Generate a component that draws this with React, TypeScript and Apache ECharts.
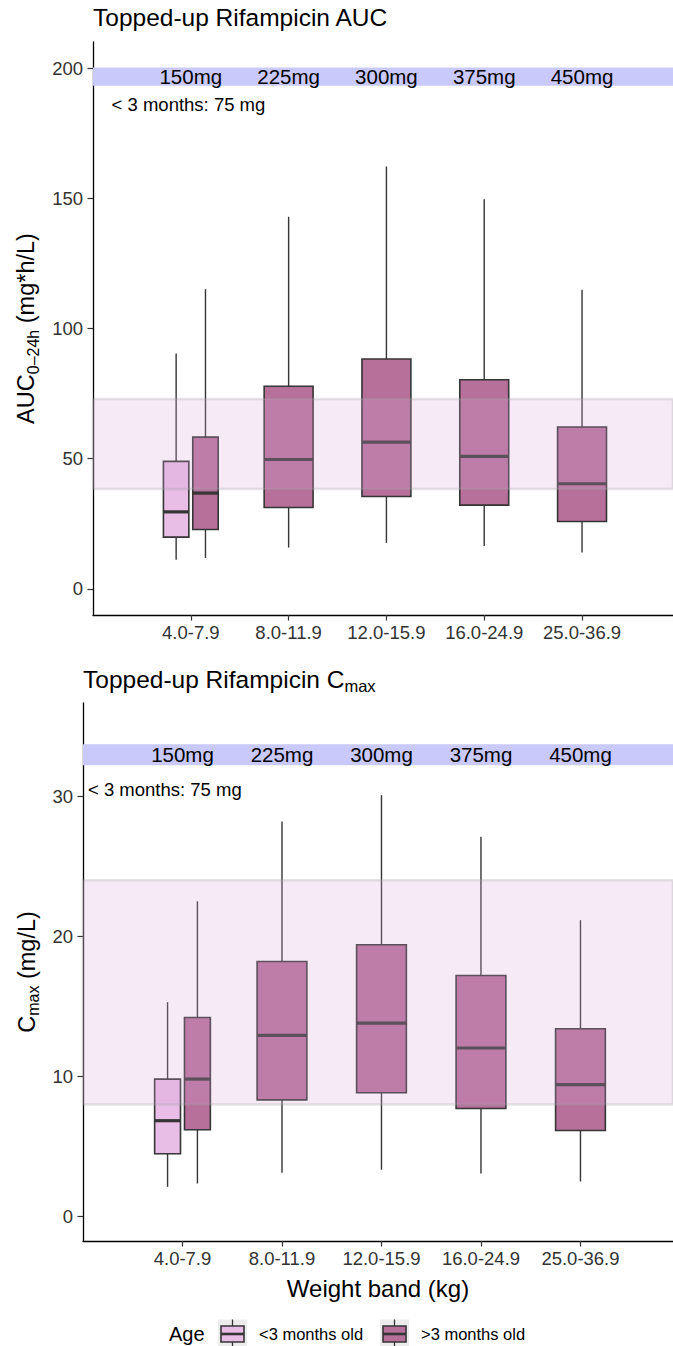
import React, { useEffect, useRef } from "react";
import * as echarts from "echarts";

const categories = ["4.0-7.9", "8.0-11.9", "12.0-15.9", "16.0-24.9", "25.0-36.9"];
const doses = ["150mg", "225mg", "300mg", "375mg", "450mg"];

// [low whisker, Q1, median, Q3, high whisker]
const aucUnder3 = [[11.2, 19.9, 29.6, 49.0, 90.4]];
const aucOver3 = [
  [11.9, 22.8, 36.8, 58.3, 115.1],
  [15.9, 31.3, 49.7, 77.8, 142.9],
  [17.7, 35.5, 56.4, 88.3, 162.2],
  [16.5, 32.2, 50.9, 80.3, 149.6],
  [14.0, 25.9, 40.4, 62.2, 114.9],
];
const cmaxUnder3 = [[2.12, 4.48, 6.84, 9.81, 15.3]];
const cmaxOver3 = [
  [2.36, 6.19, 9.81, 14.2, 22.5],
  [3.12, 8.33, 12.93, 18.2, 28.2],
  [3.34, 8.84, 13.8, 19.4, 30.07],
  [3.07, 7.71, 12.03, 17.2, 27.1],
  [2.5, 6.14, 9.41, 13.4, 21.15],
];
const aucTarget = [38.4, 72.9];
const cmaxTarget = [8.0, 24.0];
const aucDoseBand = [193.2, 200.2];
const cmaxDoseBand = [32.2, 33.7];
const aucTicks = [0, 50, 100, 150, 200];
const cmaxTicks = [0, 10, 20, 30];
const noteText = "< 3 months: 75 mg";
const ageLabels = ["<3 months old", ">3 months old"];

const LIGHT = "#e8bde6";
const DARK = "#b6709a";
const EDGE = "#353535";
const FONT = "'Liberation Sans', Arial, Helvetica, sans-serif";
const X_MAX = 5.93;
const DODGE = 0.15;
const W_SINGLE = 0.5;
const W_DODGE = 0.26;

function boxRender(width: number, fill: string) {
  return (params: any, api: any) => {
    const x = api.value(0);
    const pLo = api.coord([x, api.value(1)]);
    const pQ1 = api.coord([x, api.value(2)]);
    const pMd = api.coord([x, api.value(3)]);
    const pQ3 = api.coord([x, api.value(4)]);
    const pHi = api.coord([x, api.value(5)]);
    const half = api.size([width, 0])[0] / 2;
    return {
      type: "group",
      children: [
        { type: "line", shape: { x1: pHi[0], y1: pHi[1], x2: pQ3[0], y2: pQ3[1] }, style: { stroke: EDGE, lineWidth: 1.4 } },
        { type: "line", shape: { x1: pQ1[0], y1: pQ1[1], x2: pLo[0], y2: pLo[1] }, style: { stroke: EDGE, lineWidth: 1.4 } },
        {
          type: "rect",
          shape: { x: pQ3[0] - half, y: pQ3[1], width: 2 * half, height: pQ1[1] - pQ3[1] },
          style: { fill, stroke: EDGE, lineWidth: 1.6 },
        },
        { type: "line", shape: { x1: pMd[0] - half, y1: pMd[1], x2: pMd[0] + half, y2: pMd[1] }, style: { stroke: EDGE, lineWidth: 3.2 } },
      ],
    };
  };
}

function bandRender(fill: string, stroke: string, lw: number) {
  return (params: any, api: any) => {
    const cs = params.coordSys;
    const y0 = api.coord([0, api.value(1)])[1];
    const y1 = api.coord([0, api.value(2)])[1];
    return {
      type: "rect",
      shape: { x: cs.x, y: y1, width: cs.width, height: y0 - y1 },
      style: { fill, stroke, lineWidth: lw },
    };
  };
}

function doseRender() {
  return (params: any, api: any) => {
    const p = api.coord([api.value(0), api.value(1)]);
    return {
      type: "text",
      x: p[0],
      y: p[1],
      style: { text: doses[params.dataIndex], fontSize: 20.5, fontFamily: FONT, fill: "#000", align: "center", verticalAlign: "middle" },
    };
  };
}

function noteRender() {
  return (params: any, api: any) => {
    const p = api.coord([api.value(0), api.value(1)]);
    return {
      type: "text",
      x: p[0],
      y: p[1],
      style: { text: noteText, fontSize: 18.5, fontFamily: FONT, fill: "#000", align: "left", verticalAlign: "middle" },
    };
  };
}

function panelSeries(idx: number, under: number[][], over: number[][], target: number[], band: number[], noteX: number, noteY: number) {
  const mid = (band[0] + band[1]) / 2;
  const common = { type: "custom", xAxisIndex: idx, yAxisIndex: idx, clip: false };
  return [
    {
      ...common,
      z: 1,
      renderItem: bandRender("#c9c9fb", "none", 0),
      encode: { x: 0, y: [1, 2] },
      data: [[0, band[0], band[1]]],
    },
    {
      ...common,
      z: 2,
      renderItem: boxRender(W_DODGE, LIGHT),
      encode: { x: 0, y: [1, 2, 3, 4, 5] },
      data: under.map((v, i) => [i + 1 - DODGE, ...v]),
    },
    {
      ...common,
      z: 2,
      renderItem: boxRender(W_SINGLE, DARK),
      encode: { x: 0, y: [1, 2, 3, 4, 5] },
      data: over
        .map((v, i) => (i < under.length ? null : [i + 1, ...v]))
        .filter((d) => d !== null),
    },
    {
      ...common,
      z: 2,
      renderItem: boxRender(W_DODGE, DARK),
      encode: { x: 0, y: [1, 2, 3, 4, 5] },
      data: over.slice(0, under.length).map((v, i) => [i + 1 + DODGE, ...v]),
    },
    {
      ...common,
      z: 3,
      renderItem: bandRender("rgba(218,166,218,0.24)", "rgba(160,160,160,0.28)", 2.5),
      encode: { x: 0, y: [1, 2] },
      data: [[0, target[0], target[1]]],
    },
    {
      ...common,
      z: 4,
      renderItem: doseRender(),
      encode: { x: 0, y: 1 },
      data: doses.map((d, i) => [i + 1, mid]),
    },
    {
      ...common,
      z: 4,
      renderItem: noteRender(),
      encode: { x: 0, y: 1 },
      data: [[noteX, noteY]],
    },
  ];
}

function xAxis(idx: number, withName: boolean) {
  return {
    type: "value",
    gridIndex: idx,
    min: 0,
    max: X_MAX,
    name: withName ? "Weight band (kg)" : "",
    nameLocation: "middle",
    nameGap: 35,
    nameTextStyle: { fontSize: 24, color: "#000", fontFamily: FONT },
    splitLine: { show: false },
    axisLine: { show: true, onZero: false, lineStyle: { color: "#000", width: 1.3 } },
    axisTick: { show: true, length: 5.5, customValues: [1, 2, 3, 4, 5], lineStyle: { color: "#333", width: 1.2 } },
    axisLabel: {
      customValues: [1, 2, 3, 4, 5],
      formatter: (v: number) => categories[Math.round(v) - 1] || "",
      fontSize: 18.5,
      color: "#333",
      margin: 8,
      fontFamily: FONT,
    },
  };
}

function yAxis(idx: number, min: number, max: number, ticks: number[], name: string, gap: number) {
  return {
    type: "value",
    gridIndex: idx,
    min,
    max,
    name,
    nameLocation: "middle",
    nameGap: gap,
    nameTextStyle: {
      fontFamily: FONT,
      rich: {
        a: { fontSize: 23.5, color: "#000", lineHeight: 30, fontFamily: FONT },
        s: { fontSize: 16, color: "#000", lineHeight: 19, verticalAlign: "bottom", fontFamily: FONT },
      },
    },
    splitLine: { show: false },
    axisLine: { show: true, onZero: false, lineStyle: { color: "#000", width: 1.3 } },
    axisTick: { show: true, length: 5.5, customValues: ticks, lineStyle: { color: "#333", width: 1.2 } },
    axisLabel: { customValues: ticks, fontSize: 18.5, color: "#333", margin: 10, fontFamily: FONT },
  };
}

function legendKey(x: number, y: number, fill: string) {
  const cx = x + 14.5;
  return [
    { type: "rect", shape: { x, y: y - 14.5, width: 29, height: 29 }, style: { fill: "#ececec" } },
    { type: "line", shape: { x1: cx, y1: y - 14.5, x2: cx, y2: y - 8 }, style: { stroke: EDGE, lineWidth: 1.3 } },
    { type: "line", shape: { x1: cx, y1: y + 8, x2: cx, y2: y + 14.5 }, style: { stroke: EDGE, lineWidth: 1.3 } },
    { type: "rect", shape: { x: x + 3, y: y - 8, width: 23, height: 16 }, style: { fill, stroke: EDGE, lineWidth: 1.6 } },
    { type: "line", shape: { x1: x + 3, y1: y, x2: x + 26, y2: y }, style: { stroke: EDGE, lineWidth: 2.6 } },
  ];
}

export default function App() {
  const ref = useRef<HTMLDivElement>(null);
  useEffect(() => {
    if (!ref.current) return;
    const chart = echarts.init(ref.current, null, { renderer: "svg" });
    const legendY = 1334;
    chart.setOption({
      animation: false,
      textStyle: { fontFamily: FONT },
      title: [
        { text: "Topped-up Rifampicin AUC", left: 93, top: 5, padding: 0, textStyle: { fontSize: 24.5, fontWeight: "normal", color: "#000", fontFamily: FONT } },
        {
          text: "{a|Topped-up Rifampicin C}{s|max}",
          left: 83,
          top: 664,
          padding: 0,
          textStyle: {
            fontFamily: FONT,
            fontWeight: "normal",
            rich: {
              a: { fontSize: 24.5, color: "#000", lineHeight: 30, fontWeight: "normal", fontFamily: FONT },
              s: { fontSize: 16.5, color: "#000", lineHeight: 19, verticalAlign: "bottom", fontWeight: "normal", fontFamily: FONT },
            },
          },
        },
      ],
      grid: [
        { left: 93, top: 42, width: 580, height: 573 },
        { left: 83, top: 703, width: 590, height: 538 },
      ],
      xAxis: [xAxis(0, false), xAxis(1, true)],
      yAxis: [
        yAxis(0, -10, 210, aucTicks, "{a|AUC}{s|0–24h}{a| (mg*h/L)}", 50),
        yAxis(1, -1.745, 36.65, cmaxTicks, "{a|C}{s|max}{a| (mg/L)}", 41),
      ],
      series: [
        ...panelSeries(0, aucUnder3, aucOver3, aucTarget, aucDoseBand, 0.19, 186),
        ...panelSeries(1, cmaxUnder3, cmaxOver3, cmaxTarget, cmaxDoseBand, 0.05, 30.5),
      ],
      graphic: [
        { type: "text", x: 169, y: legendY, style: { text: "Age", fontSize: 20, fill: "#000", fontFamily: FONT, verticalAlign: "middle" } },
        ...legendKey(218, legendY, LIGHT),
        { type: "text", x: 259, y: legendY, style: { text: ageLabels[0], fontSize: 16.5, fill: "#000", fontFamily: FONT, verticalAlign: "middle" } },
        ...legendKey(380, legendY, DARK),
        { type: "text", x: 421, y: legendY, style: { text: ageLabels[1], fontSize: 16.5, fill: "#000", fontFamily: FONT, verticalAlign: "middle" } },
      ],
    });
    return () => chart.dispose();
  }, []);
  return <div ref={ref} style={{ position: "absolute", left: 0, top: 0, width: 673, height: 1346 }} />;
}
